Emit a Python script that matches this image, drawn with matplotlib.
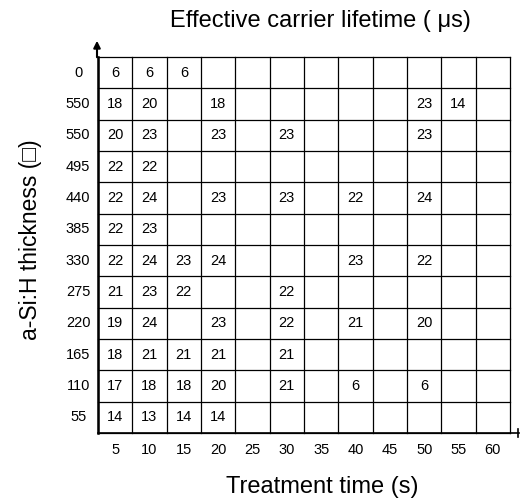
import matplotlib
matplotlib.use("Agg")
import matplotlib.pyplot as plt

plt.rcParams['font.family'] = ['Liberation Sans', 'DejaVu Sans']

treatment_time = [5, 10, 15, 20, 25, 30, 35, 40, 45, 50, 55, 60]
thickness_labels = ["0", "550", "550", "495", "440", "385", "330", "275", "220", "165", "110", "55"]
N = None
row_0 = [6, 6, 6, N, N, N, N, N, N, N, N, N]
row_550a = [18, 20, N, 18, N, N, N, N, N, 23, 14, N]
row_550b = [20, 23, N, 23, N, 23, N, N, N, 23, N, N]
row_495 = [22, 22, N, N, N, N, N, N, N, N, N, N]
row_440 = [22, 24, N, 23, N, 23, N, 22, N, 24, N, N]
row_385 = [22, 23, N, N, N, N, N, N, N, N, N, N]
row_330 = [22, 24, 23, 24, N, N, N, 23, N, 22, N, N]
row_275 = [21, 23, 22, N, N, 22, N, N, N, N, N, N]
row_220 = [19, 24, N, 23, N, 22, N, 21, N, 20, N, N]
row_165 = [18, 21, 21, 21, N, 21, N, N, N, N, N, N]
row_110 = [17, 18, 18, 20, N, 21, N, 6, N, 6, N, N]
row_55 = [14, 13, 14, 14, N, N, N, N, N, N, N, N]
lifetime = [row_0, row_550a, row_550b, row_495, row_440, row_385,
            row_330, row_275, row_220, row_165, row_110, row_55]

W, H = 520, 501
fig = plt.figure(figsize=(W / 100, H / 100), dpi=100)
left, right, top, bottom = 98, 510, 57, 433
ax = fig.add_axes([left / W, (H - bottom) / H, (right - left) / W, (bottom - top) / H])
ncol = len(treatment_time)
nrow = len(thickness_labels)
ax.set_xlim(0, ncol)
ax.set_ylim(nrow, 0)
ax.axis('off')

for i in range(nrow + 1):
    ax.plot([0, ncol], [i, i], color='black', lw=0.9, clip_on=False)
for j in range(ncol + 1):
    ax.plot([j, j], [0, nrow], color='black', lw=0.9, clip_on=False)

for i, row in enumerate(lifetime):
    for j, v in enumerate(row):
        if v is not None:
            ax.text(j + 0.5, i + 0.5, str(v), ha='center', va='center', fontsize=10.5)

for i, lab in enumerate(thickness_labels):
    ax.text(-0.58, i + 0.5, lab, ha='center', va='center', fontsize=10.5)
for j, t in enumerate(treatment_time):
    ax.text(j + 0.5, nrow + 0.55, str(t), ha='center', va='center', fontsize=10.5)

# axes arrows
fig.add_artist(matplotlib.lines.Line2D([left / W, left / W], [(H - bottom) / H, (H - top) / H],
                                       color='black', lw=1.8))
ax.annotate('', xy=(97 / W, (H - 38) / H), xytext=(97 / W, (H - 60) / H),
            xycoords='figure fraction', textcoords='figure fraction',
            arrowprops=dict(arrowstyle='-|>', color='black', lw=1.5, mutation_scale=10))
fig.add_artist(matplotlib.lines.Line2D([left / W, 519 / W], [(H - bottom) / H, (H - bottom) / H],
                                       color='black', lw=1.2))
fig.add_artist(matplotlib.lines.Line2D([518 / W, 518 / W], [(H - 429) / H, (H - 437) / H],
                                       color='black', lw=1.2))

fig.text(320 / W, 1 - 21 / H, "Effective carrier lifetime ( \u03bcs)", ha='center', va='center', fontsize=17)
fig.text(322 / W, 1 - 487 / H, "Treatment time (s)", ha='center', va='center', fontsize=17)
fig.text(31 / W, 1 - 240 / H, "a-Si:H thickness (\u25a1)", ha='center', va='center',
         rotation=90, fontsize=16.5)

fig.savefig("out.png", dpi=100)
